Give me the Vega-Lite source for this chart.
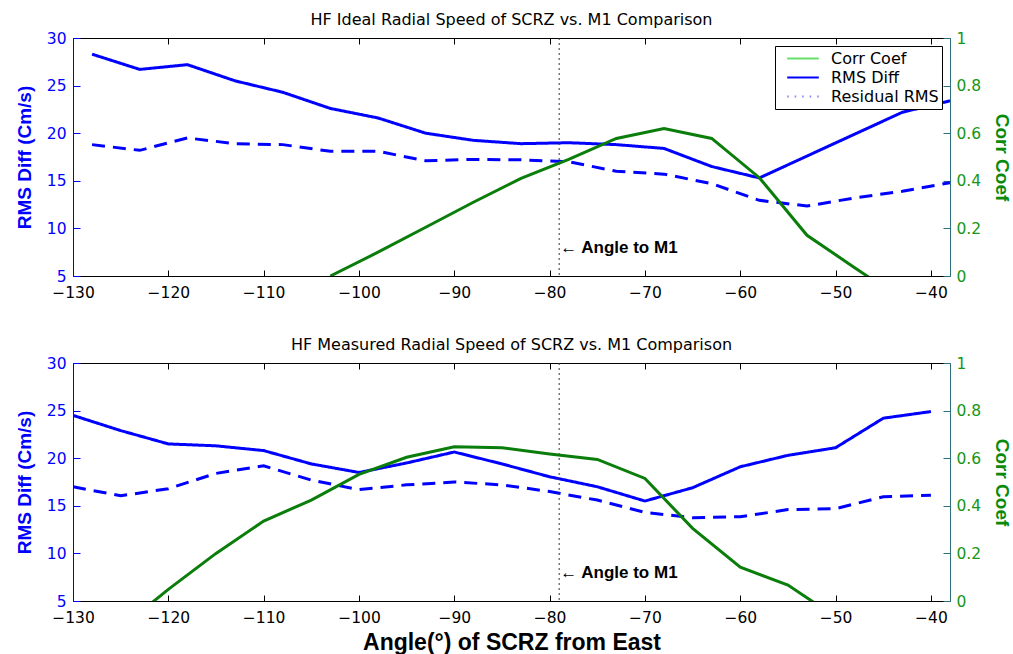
{
  "$schema": "https://vega.github.io/schema/vega-lite/v6.json",
  "background": "white",
  "padding": {"left": 15, "right": 2, "top": 12, "bottom": 2},
  "spacing": 36,
  "config": {
    "font": "DejaVu Sans",
    "view": {"stroke": null},
    "axis": {"grid": false, "labelFont": "DejaVu Sans", "titleFont": "Liberation Sans"},
    "title": {"font": "DejaVu Sans", "fontSize": 16, "fontWeight": "normal", "color": "black", "anchor": "middle", "offset": 3}
  },
  "vconcat": [
    {
      "title": "HF Ideal Radial Speed of SCRZ vs. M1 Comparison",
      "width": 877,
      "height": 238,
      "data": {"values": [
        {"angle": -128, "series": "RMS Diff", "value": 28.3},
        {"angle": -123, "series": "RMS Diff", "value": 26.7},
        {"angle": -118, "series": "RMS Diff", "value": 27.2},
        {"angle": -113, "series": "RMS Diff", "value": 25.5},
        {"angle": -108, "series": "RMS Diff", "value": 24.3},
        {"angle": -103, "series": "RMS Diff", "value": 22.6},
        {"angle": -98, "series": "RMS Diff", "value": 21.6},
        {"angle": -93, "series": "RMS Diff", "value": 20.0},
        {"angle": -88, "series": "RMS Diff", "value": 19.25},
        {"angle": -83, "series": "RMS Diff", "value": 18.9},
        {"angle": -78, "series": "RMS Diff", "value": 19.0},
        {"angle": -73, "series": "RMS Diff", "value": 18.8},
        {"angle": -68, "series": "RMS Diff", "value": 18.4},
        {"angle": -63, "series": "RMS Diff", "value": 16.5},
        {"angle": -58, "series": "RMS Diff", "value": 15.3},
        {"angle": -53, "series": "RMS Diff", "value": 17.6},
        {"angle": -48, "series": "RMS Diff", "value": 19.9},
        {"angle": -43, "series": "RMS Diff", "value": 22.2},
        {"angle": -38, "series": "RMS Diff", "value": 23.4},
        {"angle": -128, "series": "Residual RMS", "value": 18.8},
        {"angle": -123, "series": "Residual RMS", "value": 18.2},
        {"angle": -118, "series": "Residual RMS", "value": 19.5},
        {"angle": -113, "series": "Residual RMS", "value": 18.9},
        {"angle": -108, "series": "Residual RMS", "value": 18.8},
        {"angle": -103, "series": "Residual RMS", "value": 18.1},
        {"angle": -98, "series": "Residual RMS", "value": 18.1},
        {"angle": -93, "series": "Residual RMS", "value": 17.1},
        {"angle": -88, "series": "Residual RMS", "value": 17.25},
        {"angle": -83, "series": "Residual RMS", "value": 17.2},
        {"angle": -78, "series": "Residual RMS", "value": 17.0},
        {"angle": -73, "series": "Residual RMS", "value": 16.0},
        {"angle": -68, "series": "Residual RMS", "value": 15.7},
        {"angle": -63, "series": "Residual RMS", "value": 14.7},
        {"angle": -58, "series": "Residual RMS", "value": 12.95},
        {"angle": -53, "series": "Residual RMS", "value": 12.35},
        {"angle": -48, "series": "Residual RMS", "value": 13.2},
        {"angle": -43, "series": "Residual RMS", "value": 13.9},
        {"angle": -38, "series": "Residual RMS", "value": 14.8},
        {"angle": -103, "series": "Corr Coef", "value": 0.0},
        {"angle": -98, "series": "Corr Coef", "value": 0.10},
        {"angle": -93, "series": "Corr Coef", "value": 0.205},
        {"angle": -88, "series": "Corr Coef", "value": 0.31},
        {"angle": -83, "series": "Corr Coef", "value": 0.41},
        {"angle": -78, "series": "Corr Coef", "value": 0.49},
        {"angle": -73, "series": "Corr Coef", "value": 0.578},
        {"angle": -68, "series": "Corr Coef", "value": 0.62},
        {"angle": -63, "series": "Corr Coef", "value": 0.578},
        {"angle": -58, "series": "Corr Coef", "value": 0.413},
        {"angle": -53, "series": "Corr Coef", "value": 0.171},
        {"angle": -48, "series": "Corr Coef", "value": 0.035},
        {"angle": -43, "series": "Corr Coef", "value": -0.10},
        {"angle": -79, "series": "marker", "value": 7.9, "label": "← Angle to M1"}
      ]},
      "layer": [
        {
          "layer": [
            {
              "transform": [{"filter": "datum.series === 'RMS Diff' || datum.series === 'Residual RMS'"}],
              "mark": {"type": "line", "color": "#0000ff", "strokeWidth": 3, "clip": true},
              "encoding": {
                "x": {"field": "angle", "type": "quantitative", "scale": {"domain": [-130, -38], "nice": false, "zero": false},
                  "axis": {"orient": "bottom", "title": null, "values": [-130, -120, -110, -100, -90, -80, -70, -60, -50, -40], "labelFontSize": 15.5, "labelColor": "black", "domainColor": "black", "tickColor": "black", "tickSize": -6, "labelPadding": 15, "labelFlush": false}},
                "y": {"field": "value", "type": "quantitative", "scale": {"domain": [5, 30], "nice": false, "zero": false},
                  "axis": {"orient": "left", "title": "RMS Diff (Cm/s)", "titleFontSize": 19, "titleFontWeight": "bold", "titleColor": "#0000ff", "titlePadding": 12, "values": [5, 10, 15, 20, 25, 30], "labelFontSize": 15.5, "labelColor": "#0000ff", "domainColor": "#0000ff", "tickColor": "#0000ff", "tickSize": -7, "labelPadding": 14}},
                "strokeDash": {"field": "series", "type": "nominal", "scale": {"domain": ["RMS Diff", "Residual RMS"], "range": [[1, 0], [13, 8]]}, "legend": null}
              }
            },
            {
              "transform": [{"filter": "datum.series === 'marker'"}],
              "mark": {"type": "rule", "color": "#333333", "strokeWidth": 1, "strokeDash": [2, 3]},
              "encoding": {"x": {"field": "angle", "type": "quantitative"}}
            },
            {
              "transform": [{"filter": "datum.series === 'marker'"}],
              "mark": {"type": "text", "align": "left", "baseline": "middle", "font": "Liberation Sans", "fontWeight": "bold", "fontSize": 17, "color": "black", "dx": 1},
              "encoding": {
                "x": {"field": "angle", "type": "quantitative"},
                "y": {"field": "value", "type": "quantitative"},
                "text": {"field": "label"}
              }
            }
          ]
        },
        {
          "transform": [{"filter": "datum.series === 'Corr Coef'"}],
          "mark": {"type": "line", "color": "#0a7d0a", "strokeWidth": 3, "clip": true},
          "encoding": {
            "x": {"field": "angle", "type": "quantitative",
              "axis": {"orient": "top", "title": null, "labels": false, "values": [-130, -120, -110, -100, -90, -80, -70, -60, -50, -40], "domainColor": "black", "tickColor": "black", "tickSize": -6}},
            "y": {"field": "value", "type": "quantitative", "scale": {"domain": [0, 1], "nice": false, "zero": false},
              "axis": {"orient": "right", "title": "Corr Coef", "titleFontSize": 19, "titleFontWeight": "bold", "titleColor": "#0a8a0a", "titlePadding": 11, "values": [0, 0.2, 0.4, 0.6, 0.8, 1], "format": "~g", "labelFontSize": 15.5, "labelColor": "#169616", "domainColor": "#2b6f7c", "tickColor": "#2b6f7c", "tickSize": -7, "labelPadding": 13}}
          }
        },
        {
          "data": {"values": []},
          "mark": {"type": "line", "strokeWidth": 2},
          "encoding": {
            "color": {"field": "series", "type": "nominal", "scale": {"domain": ["Corr Coef", "RMS Diff", "Residual RMS"], "range": ["#66e066", "#0000ff", "#8080ff"]},
              "legend": {"title": null, "orient": "top-right", "offset": 8, "strokeColor": "black", "fillColor": "white", "padding": 3, "symbolOffset": 8, "symbolType": "stroke", "symbolSize": 1000, "symbolStrokeWidth": 2, "labelFontSize": 16, "labelFont": "DejaVu Sans", "labelColor": "black", "rowPadding": 0, "clipHeight": 19, "labelOffset": 11, "labelLimit": 200}},
            "strokeDash": {"field": "series", "type": "nominal", "scale": {"domain": ["Corr Coef", "RMS Diff", "Residual RMS"], "range": [[1, 0], [1, 0], [1.5, 6]]},
              "legend": {"title": null}}
          }
        }
      ],
      "resolve": {"scale": {"y": "independent", "color": "independent", "strokeDash": "independent"}, "axis": {"x": "independent"}}
    },
    {
      "title": "HF Measured Radial Speed of SCRZ vs. M1 Comparison",
      "width": 877,
      "height": 238,
      "data": {"values": [
        {"angle": -130, "series": "RMS Diff", "value": 24.5},
        {"angle": -125, "series": "RMS Diff", "value": 22.9},
        {"angle": -120, "series": "RMS Diff", "value": 21.5},
        {"angle": -115, "series": "RMS Diff", "value": 21.3},
        {"angle": -110, "series": "RMS Diff", "value": 20.8},
        {"angle": -105, "series": "RMS Diff", "value": 19.4},
        {"angle": -100, "series": "RMS Diff", "value": 18.5},
        {"angle": -95, "series": "RMS Diff", "value": 19.5},
        {"angle": -90, "series": "RMS Diff", "value": 20.65},
        {"angle": -85, "series": "RMS Diff", "value": 19.4},
        {"angle": -80, "series": "RMS Diff", "value": 18.05},
        {"angle": -75, "series": "RMS Diff", "value": 17.0},
        {"angle": -70, "series": "RMS Diff", "value": 15.5},
        {"angle": -65, "series": "RMS Diff", "value": 16.9},
        {"angle": -60, "series": "RMS Diff", "value": 19.1},
        {"angle": -55, "series": "RMS Diff", "value": 20.3},
        {"angle": -50, "series": "RMS Diff", "value": 21.1},
        {"angle": -45, "series": "RMS Diff", "value": 24.2},
        {"angle": -40, "series": "RMS Diff", "value": 24.9},
        {"angle": -130, "series": "Residual RMS", "value": 17.0},
        {"angle": -125, "series": "Residual RMS", "value": 16.05},
        {"angle": -120, "series": "Residual RMS", "value": 16.8},
        {"angle": -115, "series": "Residual RMS", "value": 18.4},
        {"angle": -110, "series": "Residual RMS", "value": 19.2},
        {"angle": -105, "series": "Residual RMS", "value": 17.7},
        {"angle": -100, "series": "Residual RMS", "value": 16.7},
        {"angle": -95, "series": "Residual RMS", "value": 17.2},
        {"angle": -90, "series": "Residual RMS", "value": 17.5},
        {"angle": -85, "series": "Residual RMS", "value": 17.2},
        {"angle": -80, "series": "Residual RMS", "value": 16.5},
        {"angle": -75, "series": "Residual RMS", "value": 15.6},
        {"angle": -70, "series": "Residual RMS", "value": 14.3},
        {"angle": -65, "series": "Residual RMS", "value": 13.75},
        {"angle": -60, "series": "Residual RMS", "value": 13.85},
        {"angle": -55, "series": "Residual RMS", "value": 14.6},
        {"angle": -50, "series": "Residual RMS", "value": 14.7},
        {"angle": -45, "series": "Residual RMS", "value": 15.95},
        {"angle": -40, "series": "Residual RMS", "value": 16.1},
        {"angle": -125, "series": "Corr Coef", "value": -0.114},
        {"angle": -120, "series": "Corr Coef", "value": 0.049},
        {"angle": -115, "series": "Corr Coef", "value": 0.20},
        {"angle": -110, "series": "Corr Coef", "value": 0.336},
        {"angle": -105, "series": "Corr Coef", "value": 0.424},
        {"angle": -100, "series": "Corr Coef", "value": 0.532},
        {"angle": -95, "series": "Corr Coef", "value": 0.604},
        {"angle": -90, "series": "Corr Coef", "value": 0.648},
        {"angle": -85, "series": "Corr Coef", "value": 0.644},
        {"angle": -80, "series": "Corr Coef", "value": 0.618},
        {"angle": -75, "series": "Corr Coef", "value": 0.595},
        {"angle": -70, "series": "Corr Coef", "value": 0.515},
        {"angle": -65, "series": "Corr Coef", "value": 0.305},
        {"angle": -60, "series": "Corr Coef", "value": 0.142},
        {"angle": -55, "series": "Corr Coef", "value": 0.067},
        {"angle": -50, "series": "Corr Coef", "value": -0.067},
        {"angle": -79, "series": "marker", "value": 7.9, "label": "← Angle to M1"}
      ]},
      "layer": [
        {
          "layer": [
            {
              "transform": [{"filter": "datum.series === 'RMS Diff' || datum.series === 'Residual RMS'"}],
              "mark": {"type": "line", "color": "#0000ff", "strokeWidth": 3, "clip": true},
              "encoding": {
                "x": {"field": "angle", "type": "quantitative", "scale": {"domain": [-130, -38], "nice": false, "zero": false},
                  "axis": {"orient": "bottom", "title": "Angle(°) of SCRZ from East", "titleFontSize": 23, "titleFontWeight": "bold", "titleColor": "black", "titlePadding": 6, "values": [-130, -120, -110, -100, -90, -80, -70, -60, -50, -40], "labelFontSize": 15.5, "labelColor": "black", "domainColor": "black", "tickColor": "black", "tickSize": -6, "labelPadding": 15, "labelFlush": false}},
                "y": {"field": "value", "type": "quantitative", "scale": {"domain": [5, 30], "nice": false, "zero": false},
                  "axis": {"orient": "left", "title": "RMS Diff (Cm/s)", "titleFontSize": 19, "titleFontWeight": "bold", "titleColor": "#0000ff", "titlePadding": 12, "values": [5, 10, 15, 20, 25, 30], "labelFontSize": 15.5, "labelColor": "#0000ff", "domainColor": "#0000ff", "tickColor": "#0000ff", "tickSize": -7, "labelPadding": 14}},
                "strokeDash": {"field": "series", "type": "nominal", "scale": {"domain": ["RMS Diff", "Residual RMS"], "range": [[1, 0], [13, 8]]}, "legend": null}
              }
            },
            {
              "transform": [{"filter": "datum.series === 'marker'"}],
              "mark": {"type": "rule", "color": "#333333", "strokeWidth": 1, "strokeDash": [2, 3]},
              "encoding": {"x": {"field": "angle", "type": "quantitative"}}
            },
            {
              "transform": [{"filter": "datum.series === 'marker'"}],
              "mark": {"type": "text", "align": "left", "baseline": "middle", "font": "Liberation Sans", "fontWeight": "bold", "fontSize": 17, "color": "black", "dx": 1},
              "encoding": {
                "x": {"field": "angle", "type": "quantitative"},
                "y": {"field": "value", "type": "quantitative"},
                "text": {"field": "label"}
              }
            }
          ]
        },
        {
          "transform": [{"filter": "datum.series === 'Corr Coef'"}],
          "mark": {"type": "line", "color": "#0a7d0a", "strokeWidth": 3, "clip": true},
          "encoding": {
            "x": {"field": "angle", "type": "quantitative",
              "axis": {"orient": "top", "title": null, "labels": false, "values": [-130, -120, -110, -100, -90, -80, -70, -60, -50, -40], "domainColor": "black", "tickColor": "black", "tickSize": -6}},
            "y": {"field": "value", "type": "quantitative", "scale": {"domain": [0, 1], "nice": false, "zero": false},
              "axis": {"orient": "right", "title": "Corr Coef", "titleFontSize": 19, "titleFontWeight": "bold", "titleColor": "#0a8a0a", "titlePadding": 11, "values": [0, 0.2, 0.4, 0.6, 0.8, 1], "format": "~g", "labelFontSize": 15.5, "labelColor": "#169616", "domainColor": "#2b6f7c", "tickColor": "#2b6f7c", "tickSize": -7, "labelPadding": 13}}
          }
        }
      ],
      "resolve": {"scale": {"y": "independent"}, "axis": {"x": "independent"}}
    }
  ]
}
